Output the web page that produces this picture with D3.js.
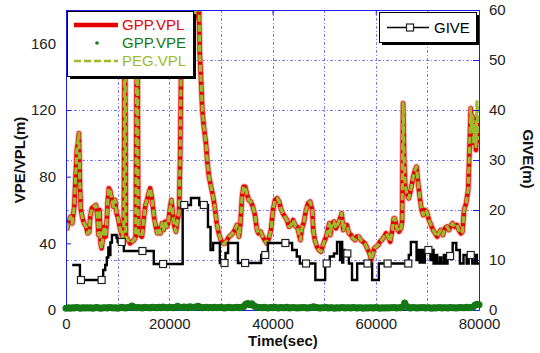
<!DOCTYPE html>
<html>
<head>
<meta charset="utf-8">
<script src="https://cdn.jsdelivr.net/npm/d3@7"></script>
<style>
  html, body { margin: 0; padding: 0; background: #fff; }
  svg { display: block; font-family: "Liberation Sans", Arial, sans-serif; }
</style>
</head>
<body>
<svg id="chart" width="540" height="353"></svg>
<script>
// ---- protection levels along the run (seconds, metres) ----
const vplTime = [
  100,300,600,900,1200,1400,1600,1900,2100,2300,2500,2700,2900,3200,3500,3900,4200,4500,4700,5000,
  5400,5800,6100,6300,6500,6700,6900,7100,7400,7700,7900,8100,8300,8600,8900,9200,9500,9800,10100,10400,
  10700,10900,11200,11400,11600,12000,12400,12800,13200,13500,13800,14000,14300,14700,15100,15400,15700,16000,16300,16600,
  16900,17100,17400,17700,18000,18300,18600,18900,19200,19500,19800,20100,20400,20700,21000,21300,21600,21900,22100,22300,
  22700,23400,24200,24900,25400,25700,25900,26200,26400,26700,27100,27400,27700,28100,28500,28900,29200,29600,30000,30400,
  30800,31200,31600,32000,32300,32700,33100,33500,33800,34100,34400,34700,35100,35400,35800,36200,36600,37000,37300,37700,
  38100,38500,38900,39300,39700,40100,40500,40900,41300,41600,42000,42400,42800,43200,43600,44000,44500,44800,45100,45400,
  45700,46100,46500,46900,47300,47700,47900,48200,48600,49000,49400,49700,50000,50400,50700,51000,51200,51500,51900,52300,
  52700,53100,53400,53700,54000,54400,54800,55200,55600,56000,56300,56700,57100,57500,57900,58200,58500,58900,59100,59400,
  59700,60100,60500,60800,61200,61600,62000,62400,62800,63200,63500,63700,64100,64500,64900,65100,65300,65500,65700,66000,
  66400,66800,67200,67600,67900,68200,68600,68900,69200,69500,69900,70300,70700,71100,71500,71900,72200,72600,73000,73400,
  73800,74200,74600,74900,75300,75700,76100,76500,76800,77100,77500,77900,78200,78400,78600,78800,79000,79200,79400,79600,
  79800,80000
];
const gppVpl = [
  48,50,54,56,52,57,62,82,96,100,106,74,60,55,52,50,46,47,56,61,
  62,63,56,45,60,40,37,42,50,44,54,66,73,71,66,62,66,58,55,50,
  46,44,50,200,44,42,40,41,42,44,200,46,45,44,56,63,66,70,73,68,
  60,55,50,46,49,46,52,48,53,50,52,60,66,58,50,47,54,58,90,145,
  160,170,165,175,190,195,155,135,120,110,100,88,80,74,68,60,52,46,42,40,
  40,42,44,45,46,48,51,44,52,68,74,74,69,66,65,62,57,48,46,47,
  44,42,40,43,48,60,66,67,65,61,58,56,54,50,51,54,50,50,46,42,
  49,53,60,64,65,60,48,42,38,36,35,38,41,44,48,52,45,52,53,49,
  52,55,58,48,51,51,46,45,43,42,44,44,42,41,40,38,36,33,30,33,
  37,38,39,41,42,44,46,44,41,48,55,55,49,47,49,53,124,90,75,70,
  67,72,79,84,86,76,66,60,57,60,59,54,51,48,46,44,46,48,45,49,
  50,48,51,52,50,51,48,46,47,60,64,72,100,121,108,116,100,112,96,115,
  106,100
];
const pegVpl = [
  48,50,54,56,52,57,62,82,96,101,106,74,60,55,52,50,46,47,56,61,
  62,63,56,45,60,40,37,42,50,44,54,66,73,71,66,62,66,58,55,50,
  46,44,50,200,44,42,40,41,42,44,200,46,45,44,56,63,66,70,73,68,
  60,55,50,46,49,46,52,48,53,50,52,60,66,58,50,47,54,58,90,145,
  160,170,165,175,190,195,155,135,120,110,100,88,80,74,68,60,52,46,42,40,
  40,42,44,45,46,48,51,44,52,68,74,74,69,66,65,62,57,48,46,47,
  44,42,40,43,48,60,66,67,65,61,58,56,54,50,51,54,50,50,46,42,
  49,53,60,64,65,60,48,42,38,36,35,38,41,44,48,52,45,52,53,49,
  52,55,58,48,51,51,46,45,43,42,44,44,42,41,40,38,36,33,30,33,
  37,38,39,41,42,44,46,44,41,48,55,55,49,47,49,53,124,90,75,70,
  67,72,79,84,86,76,66,60,57,60,59,54,51,48,46,44,46,48,45,49,
  50,48,51,52,50,51,48,46,47,60,64,72,100,121,108,116,100,112,98,125,
  106,102
];
// vertical position error, one sample every 400 s from t = 0
const vpeStep = 400;
const gppVpe = [
  1.0,1.3,1.1,1.4,1.2,1.5,1.3,1.1,1.4,1.2,1.3,
  1.2,1.4,1.1,1.3,1.5,1.2,1.1,1.4,1.3,1.2,1.5,1.3,1.2,1.4,1.1,
  1.3,1.6,1.4,1.2,1.5,1.8,2.4,1.6,1.3,1.5,1.4,1.2,1.6,1.5,1.3,1.4,1.7,1.5,1.3,1.6,1.4,1.8,1.5,1.4,1.6,
  1.5,1.3,1.6,2.2,1.7,1.5,1.8,1.6,1.4,2.0,1.7,1.5,1.9,2.3,1.6,1.4,1.5,1.7,1.3,1.5,
  1.4,1.6,1.3,1.5,1.7,1.4,1.2,1.5,1.6,1.3,1.4,1.5,1.7,1.4,1.6,2.0,
  3.5,3.9,3.2,3.8,2.6,1.8,1.6,
  1.5,1.3,1.6,1.4,1.2,1.5,1.3,1.6,1.4,1.2,1.5,1.3,1.4,1.6,1.2,1.4,1.5,1.3,1.2,1.4,1.3,1.5,
  1.3,1.2,1.4,1.6,1.9,1.5,1.3,1.2,1.4,1.3,1.5,1.2,1.4,1.3,1.1,1.4,1.2,1.3,1.5,1.2,1.4,1.3,1.2,1.5,1.3,
  1.2,1.4,1.3,1.1,1.3,1.2,1.4,1.3,1.2,1.5,1.3,1.1,1.4,1.2,1.3,1.2,1.4,1.3,1.5,1.2,1.4,1.3,2.0,
  4.2,2.2,
  1.4,1.2,1.5,1.3,1.2,1.4,1.3,1.5,1.2,1.4,1.3,1.1,1.4,1.2,1.3,1.5,1.2,1.4,1.3,1.2,1.5,1.3,1.4,1.2,1.3,1.5,1.4,1.3,1.6,1.4,1.5,1.7,
  2.8,3.4,3.2
];
// GIVE: value held from each change time until the next one
const giveTime = [
  1200,2700,7200,7600,7900,8200,8400,8600,8900,9800,10000,11200,17000,22600,24200,25800,27500,28000,28500,29800,
  30900,31400,33300,37800,39100,43800,44700,45300,48300,50200,51100,51900,52500,53100,53300,53500,53700,53900,54800,55400,
  56400,59300,60600,66400,66800,67900,68200,68500,68800,69100,69500,70600,70900,71200,71600,71900,72400,72700,73200,73500,
  73900,74900,75600,76300,77000,77600,78000,78700,79200,79600,80000
];
const giveVal = [
  9,6,8,9,10.5,12.5,11,13.5,15,14.4,13.6,11.8,9.2,21,22.4,21,16.6,12,13.4,9.4,
  11.4,13.4,9.4,11,13.4,12,10.7,9.3,6,9.3,10.7,11.3,13.6,10,13.6,9.5,12,11.3,9.3,6,
  9.3,6,9.3,11,13.6,10,12,9.5,12,9.5,12,10,12,9.3,11,9.3,10.5,9.3,11,9.3,
  10.8,13.4,12,9.3,11,9.3,11,9.3,11,9.3,9.3
];
const giveMarkerTime = [2900,6900,10800,14800,18800,22900,26700,30700,34700,38600,42500,46500,50500,54500,58400,62300,66300,70200,74400,78400];

// ---- axis ticks ----
const timeLabels = [0,20000,40000,60000,80000];
const timeGrid = [10000,20000,30000,40000,50000,60000,70000];
const leftTicks = [0,40,80,120,160];
const rightTicks = [0,10,20,30,40,50,60];
const rightGrid = [10,20,30,40,50];

// ---- colours ----
const cRed = "#e60000", cRedHalo = "#f5a3a3", cPeg = "#9cbc2c", cVpe = "#147814";
const cAxis = "#1c1cf0", cGrid = "#4646f0";

const plot = { left: 66, right: 479, top: 10, bottom: 310 };
const x = d3.scaleLinear().domain([0, 80000]).range([plot.left, plot.right]);
const yL = d3.scaleLinear().domain([0, 180]).range([plot.bottom, plot.top]);
const yR = d3.scaleLinear().domain([0, 60]).range([plot.bottom, plot.top]);

const svg = d3.select("#chart");
svg.append("rect").attr("width", 540).attr("height", 353).attr("fill", "#fff");

svg.append("defs").append("clipPath").attr("id", "plotClip")
  .append("rect")
  .attr("x", plot.left).attr("y", plot.top)
  .attr("width", plot.right - plot.left).attr("height", plot.bottom - plot.top);

// grid (dash-dot, from the GIVE axes)
const grid = svg.append("g").attr("stroke", cGrid).attr("stroke-width", 1)
  .attr("stroke-dasharray", "3,2,1,2").attr("opacity", 0.7);
grid.selectAll("line.v").data(timeGrid).join("line").attr("class", "v")
  .attr("x1", d => Math.round(x(d)) + 0.5).attr("x2", d => Math.round(x(d)) + 0.5)
  .attr("y1", plot.top).attr("y2", plot.bottom);
grid.selectAll("line.h").data(rightGrid).join("line").attr("class", "h")
  .attr("y1", d => Math.round(yR(d)) + 0.5).attr("y2", d => Math.round(yR(d)) + 0.5)
  .attr("x1", plot.left).attr("x2", plot.right);

// protection level lines
const vplPts = vplTime.map((t, i) => [t, gppVpl[i]]);
const pegPts = vplTime.map((t, i) => [t, pegVpl[i]]);
const lineL = d3.line().x(d => x(d[0])).y(d => yL(d[1]));
const data = svg.append("g").attr("clip-path", "url(#plotClip)");
data.append("path").attr("d", lineL(vplPts)).attr("fill", "none")
  .attr("stroke", cRedHalo).attr("stroke-width", 6.2).attr("stroke-linejoin", "round");
data.append("path").attr("d", lineL(vplPts)).attr("fill", "none")
  .attr("stroke", cRed).attr("stroke-width", 4.4).attr("stroke-linejoin", "round");
data.append("path").attr("d", lineL(pegPts)).attr("fill", "none")
  .attr("stroke", cPeg).attr("stroke-width", 3.2).attr("stroke-dasharray", "7,3")
  .attr("stroke-linejoin", "round");

// axes lines and ticks
const axisStyle = g => {
  g.selectAll(".domain").attr("stroke", cAxis);
  g.selectAll(".tick line").attr("stroke", cAxis);
  g.selectAll(".tick text").attr("fill", "#222").attr("font-size", 15)
    .attr("font-family", "'Liberation Sans', Arial, sans-serif");
};
svg.append("g").attr("transform", `translate(${plot.left},0)`)
  .call(d3.axisLeft(yL).tickValues(leftTicks).tickSizeInner(-5).tickSizeOuter(0).tickPadding(10))
  .call(axisStyle);
svg.append("g").attr("transform", `translate(${plot.right},0)`)
  .call(d3.axisRight(yR).tickValues(rightTicks).tickSizeInner(-6).tickSizeOuter(0).tickPadding(10))
  .call(axisStyle);
svg.append("g").attr("transform", `translate(0,${plot.top})`)
  .call(d3.axisTop(x).tickValues(timeLabels).tickSizeInner(-5).tickSizeOuter(0).tickFormat(""))
  .call(axisStyle);
svg.append("g").attr("transform", `translate(0,${plot.bottom})`)
  .call(d3.axisBottom(x).tickValues(timeLabels).tickSizeInner(-5).tickSizeOuter(0).tickPadding(8).tickFormat(d3.format("d")))
  .call(axisStyle);

// vertical position error dots
svg.append("g").attr("fill", cVpe)
  .selectAll("circle").data(gppVpe).join("circle")
  .attr("cx", (d, i) => x(i * vpeStep)).attr("cy", d => yL(d)).attr("r", 3.5);

// GIVE step line with square markers
const givePts = giveTime.map((t, i) => [t, giveVal[i]]);
const lineR = d3.line().x(d => x(d[0])).y(d => yR(d[1])).curve(d3.curveStepAfter);
svg.append("g").attr("clip-path", "url(#plotClip)")
  .append("path").attr("d", lineR(givePts)).attr("fill", "none")
  .attr("stroke", "#000").attr("stroke-width", 2.4);
const giveAt = t => giveVal[Math.max(0, d3.bisectRight(giveTime, t) - 1)];
svg.append("g").selectAll("rect").data(giveMarkerTime).join("rect")
  .attr("x", t => x(t) - 3.5).attr("y", t => yR(giveAt(t)) - 3.5)
  .attr("width", 7).attr("height", 7)
  .attr("fill", "#fff").attr("stroke", "#222").attr("stroke-width", 1.2);

// axis titles
svg.append("text").attr("transform", "translate(25,160) rotate(-90)")
  .attr("text-anchor", "middle").attr("font-size", 15).attr("font-weight", "bold")
  .attr("fill", "#111").text("VPE/VPL(m)");
svg.append("text").attr("transform", "translate(523,159) rotate(90)")
  .attr("text-anchor", "middle").attr("font-size", 15).attr("font-weight", "bold")
  .attr("fill", "#111").text("GIVE(m)");
svg.append("text").attr("x", 283).attr("y", 346)
  .attr("text-anchor", "middle").attr("font-size", 15).attr("font-weight", "bold")
  .attr("fill", "#111").text("Time(sec)");

// legend for the protection levels
const lg = svg.append("g");
lg.append("rect").attr("x", 70).attr("y", 14).attr("width", 126).attr("height", 65).attr("fill", "#000");
lg.append("rect").attr("x", 67.5).attr("y", 11.5).attr("width", 126).attr("height", 65)
  .attr("fill", "#fff").attr("stroke", "#000").attr("stroke-width", 1);
const legendRows = [
  { name: "GPP.VPL", color: cRed, kind: "line" },
  { name: "GPP.VPE", color: cVpe, kind: "dot" },
  { name: "PEG.VPL", color: cPeg, kind: "dash" }
];
legendRows.forEach((r, i) => {
  const cy = 25 + i * 18;
  if (r.kind === "line") {
    lg.append("line").attr("x1", 74).attr("x2", 118).attr("y1", cy).attr("y2", cy)
      .attr("stroke", cRedHalo).attr("stroke-width", 5.5);
    lg.append("line").attr("x1", 74).attr("x2", 118).attr("y1", cy).attr("y2", cy)
      .attr("stroke", r.color).attr("stroke-width", 4);
  } else if (r.kind === "dot") {
    lg.append("circle").attr("cx", 97).attr("cy", cy).attr("r", 1.8).attr("fill", r.color);
  } else {
    lg.append("line").attr("x1", 74).attr("x2", 118).attr("y1", cy).attr("y2", cy)
      .attr("stroke", r.color).attr("stroke-width", 2.6).attr("stroke-dasharray", "7,3");
  }
  lg.append("text").attr("x", 122).attr("y", cy).attr("dy", "0.36em")
    .attr("font-size", 15).attr("fill", r.color).text(r.name);
});

// legend for GIVE
const rg = svg.append("g");
rg.append("rect").attr("x", 382).attr("y", 15).attr("width", 97).attr("height", 30).attr("fill", "#000");
rg.append("rect").attr("x", 379.5).attr("y", 12.5).attr("width", 97).attr("height", 30)
  .attr("fill", "#fff").attr("stroke", "#000").attr("stroke-width", 1);
rg.append("line").attr("x1", 387).attr("x2", 429).attr("y1", 27.5).attr("y2", 27.5)
  .attr("stroke", "#000").attr("stroke-width", 1.6);
rg.append("rect").attr("x", 406.5).attr("y", 24).attr("width", 7).attr("height", 7)
  .attr("fill", "#fff").attr("stroke", "#222").attr("stroke-width", 1.2);
rg.append("text").attr("x", 434).attr("y", 27.5).attr("dy", "0.36em")
  .attr("font-size", 15).attr("fill", "#000").text("GIVE");
</script>
</body>
</html>
